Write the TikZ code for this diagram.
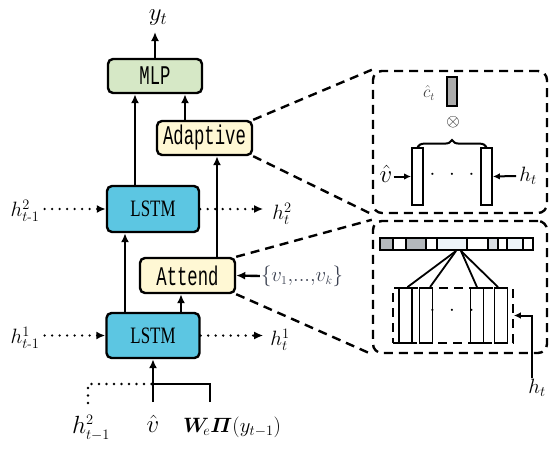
\documentclass[tikz,border=0pt]{standalone}
\usepackage{amsmath,bm}
\usepackage{fontspec}
\usetikzlibrary{arrows.meta,decorations.pathreplacing}
\newfontfamily\monof[FakeStretch=0.64]{Liberation Mono}
\newfontfamily\lstmf[FakeStretch=0.72]{Liberation Serif}
\renewcommand{\defaultscriptratio}{.62}
\renewcommand{\defaultscriptscriptratio}{.45}
\definecolor{mlpc}{HTML}{D6E8C6}
\definecolor{yelc}{HTML}{FFF8D4}
\definecolor{lstmc}{HTML}{5CC6E2}
\definecolor{barg}{HTML}{B4B8BC}
\definecolor{barm}{HTML}{D8DDE2}
\definecolor{barl}{HTML}{EEF5FA}
\definecolor{vsetc}{HTML}{3A4050}
\tikzset{
  box/.style={draw=black, line width=2.4pt, rounded corners=5pt, inner sep=0pt},
  monotxt/.style={font=\fontsize{27}{29}\selectfont\monof},
  lstmtxt/.style={font=\fontsize{23.5}{25}\selectfont\lstmf},
  arr/.style={line width=2.4pt, -{Latex[length=9pt,width=8pt]}},
  arrs/.style={line width=2pt, -{Latex[length=7pt,width=6.5pt]}},
  ln/.style={line width=2.4pt},
  dotln/.style={line width=2.6pt, line cap=round, dash pattern=on 0pt off 7.5pt},
  dotarr/.style={dotln, -{Latex[length=9pt,width=8pt]}},
  dashln/.style={line width=2.4pt, dash pattern=on 9pt off 6pt},
  dbox/.style={draw, dashln, rounded corners=9pt, inner sep=0pt},
  lab/.style={font=\fontsize{22}{24}\selectfont, inner sep=1pt},
  labb/.style={font=\fontsize{25}{27}\selectfont, inner sep=1pt},
  vbar/.style={draw, line width=1.8pt, fill=white, inner sep=0pt, minimum width=11pt, minimum height=57pt},
  cell/.style={draw, line width=1.8pt, fill=white, inner sep=0pt, minimum width=13pt, minimum height=55pt},
}
\begin{document}
\begin{tikzpicture}[x=1pt,y=-1pt]
\useasboundingbox (0,0) rectangle (550,450);

% main boxes
\node[box, fill=mlpc, minimum width=94pt, minimum height=34pt, monotxt] (mlp) at (155,76) {MLP};
\node[box, fill=yelc, minimum width=95pt, minimum height=34pt, monotxt] (adapt) at (204.5,138) {Adaptive};
\node[box, fill=lstmc, minimum width=92pt, minimum height=46pt, lstmtxt] (lstm2) at (153,209) {LSTM};
\node[box, fill=yelc, minimum width=95pt, minimum height=35pt, monotxt] (attend) at (187.5,275.5) {Attend};
\node[box, fill=lstmc, minimum width=93pt, minimum height=45pt, lstmtxt] (lstm1) at (153,335.5) {LSTM};

% output
\node[font=\fontsize{28}{30}\selectfont, inner sep=1pt] (yt) at (158,18) {$y_t$};
\coordinate (ytip) at (155,32);
\draw[arr] (mlp.north) -- (ytip);

% vertical connections
\draw[arr] ([xshift=-18pt]lstm2.north) -- ([xshift=-18pt]lstm2.north |- mlp.south);
\draw[arr] ([xshift=-19.5pt]adapt.north) -- ([xshift=-19.5pt]adapt.north |- mlp.south);
\draw[arr] ([xshift=29.5pt]attend.north) -- ([xshift=29.5pt]attend.north |- adapt.south);
\draw[arr] ([xshift=-28pt]lstm1.north) -- ([xshift=-28pt]lstm1.north |- lstm2.south);
\draw[arr] ([xshift=28pt]lstm1.north) -- ([xshift=28pt]lstm1.north |- attend.south);

% visual features into Attend
\node[font=\fontsize{20}{22}\selectfont, text=vsetc, inner sep=1pt] (vset) at (302,276) {$\{v_1,\!\mathord{...},\!v_k\}$};
\draw[arr] (vset.west) -- (attend.east);

% hidden states
\node[lab] (h2l) at (25,211) {$h^2_{t\text{-}1}$};
\node[lab] (h2r) at (282,214) {$h^2_t$};
\node[lab] (h1l) at (25,338) {$h^1_{t\text{-}1}$};
\node[lab] (h1r) at (280,340) {$h^1_t$};
\draw[dotarr] ([xshift=4pt]h2l.east |- lstm2.west) -- (lstm2.west);
\draw[dotarr] (lstm2.east) -- ([xshift=-8pt]h2r.west |- lstm2.east);
\draw[dotarr] ([xshift=4pt]h1l.east |- lstm1.west) -- (lstm1.west);
\draw[dotarr] (lstm1.east) -- ([xshift=-6pt]h1r.west |- lstm1.east);

% bottom inputs
\node[labb] (hb) at (91,428) {$h^2_{t-1}$};
\node[labb] (vb) at (153,424) {$\hat{v}$};
\node[font=\fontsize{22}{24}\selectfont, inner sep=1pt] (wb) at (232,427) {$\bm{W}_{\!e}\bm{\varPi}(y_{t-1})$};
\coordinate (j) at (153,384);
\coordinate (vtop) at (153,402);
\coordinate (wtop) at (210,402);
\coordinate (htop) at (88,403);
\draw[arr] (vtop) -- (lstm1.south);
\draw[ln] (wtop) |- (j);
\draw[dotln] (htop) |- (j);

% zoom panels
\node[dbox, minimum width=174pt, minimum height=142pt] (pa) at (460,142) {};
\node[dbox, minimum width=174pt, minimum height=132pt] (pb) at (460,287) {};
\draw[dashln] (adapt.north east) -- (pa.north west);
\draw[dashln] (adapt.south east) -- (pa.south west);
\draw[dashln] (attend.north east) -- (pb.north west);
\draw[dashln] (attend.south east) -- (pb.south west);

% top panel content
\node[draw, line width=1.6pt, fill=gray!65, inner sep=0pt, minimum width=10pt, minimum height=29pt] (ct) at (452,91.5) {};
\node[font=\fontsize{18}{20}\selectfont, text=darkgray, inner sep=0pt] (ctl) at (429,93) {$\hat{c}_t$};
\node[font=\fontsize{16}{16}\selectfont, inner sep=0pt] (ot) at (453,122) {$\otimes$};
\node[vbar] (ra) at (417.5,176.5) {};
\node[vbar] (rb) at (486.5,176.5) {};
\draw[line width=2pt, decorate, decoration={brace, amplitude=7pt}] (ra.north) -- (rb.north);
\node[font=\fontsize{24}{26}\selectfont, inner sep=1pt] (va) at (386,174) {$\hat{v}$};
\node[lab] (hta) at (528,176) {$h_t$};
\draw[arrs] (va.east |- ra.west) -- (ra.west);
\draw[arrs] ([xshift=-2pt]hta.west) -- (rb.east);
\node[font=\fontsize{20}{20}\selectfont] (da) at (452,175) {$\cdot\;\,\cdot\;\,\cdot$};

% bottom panel content
\foreach \a/\b/\c in {380/393/barg, 393/406/white, 406/426/barg, 426/437/white, 437/467/barl, 467/488/white, 488/498/barm, 498/507/white, 507/523/barl, 523/533/white}
  \draw[line width=1.6pt, fill=\c] (\a,238) rectangle (\b,250);
\node[draw, line width=1.6pt, dash pattern=on 9pt off 6pt, inner sep=0pt, minimum width=120pt, minimum height=55pt] (grp) at (453,315.5) {};
\node[cell] (r1) at (405.5,315.5) {};
\node[cell] (r2) at (426,315.5) {};
\node[cell] (r3) at (477,315.5) {};
\node[cell] (r4) at (501,315.5) {};
\coordinate (cv1) at (456,251);
\coordinate (cv2) at (461,251);
\draw[line width=1.8pt] (cv1) -- ([xshift=2pt]r1.north);
\draw[line width=1.8pt] (cv1) -- ([xshift=4pt]r2.north);
\draw[line width=1.8pt] (cv2) -- (r3.north);
\draw[line width=1.8pt] (cv2) -- ([xshift=-3pt]r4.north);
\node[font=\fontsize{20}{20}\selectfont] (db) at (452,311) {$\cdot\;\,\cdot\;\,\cdot$};
\node[lab] (htb) at (537,388) {$h_t$};
\draw[arrs] ([xshift=-5pt]htb.north) |- (grp.east);
\end{tikzpicture}
\end{document}
